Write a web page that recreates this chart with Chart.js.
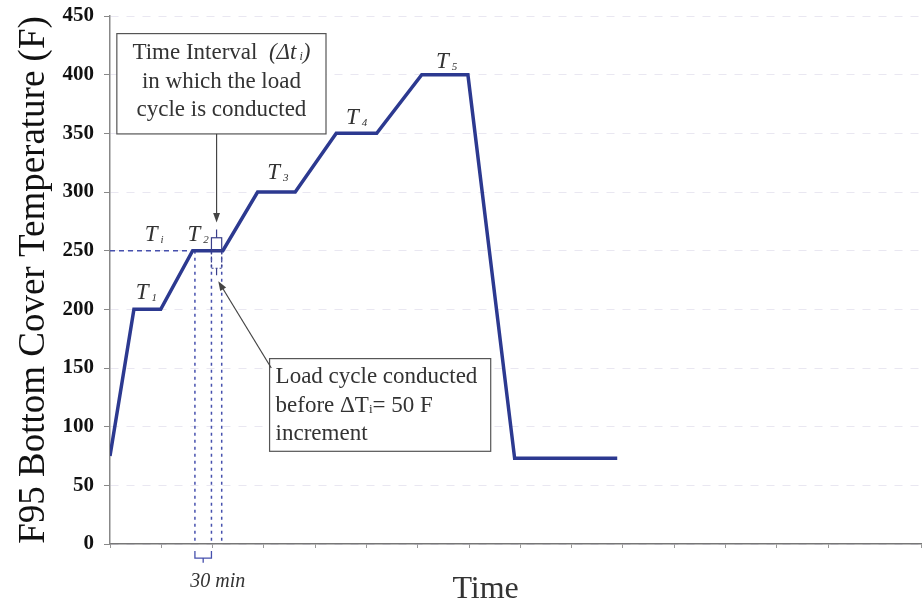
<!DOCTYPE html>
<html>
<head>
<meta charset="utf-8">
<script src="https://cdn.jsdelivr.net/npm/chart.js@4/dist/chart.umd.min.js"></script>
<style>
html, body { margin: 0; padding: 0; background: #fff; }
#wrap { width: 924px; height: 608px; position: relative; }
</style>
</head>
<body>
<div id="wrap"><canvas id="myChart"></canvas></div>
<script>
// time in minutes, temperature in F
var timeMin = [0, 42, 89, 145, 198, 259, 325, 397, 468, 547, 628, 710, 890];
var tempF   = [75, 200, 200, 250, 250, 300, 300, 350, 350, 400, 400, 73, 73];

// stage labels T1, Ti, T2 ... T5
var stageSub  = ['1', 'i', '2', '3', '4', '5'];
var stageTime = [45, 61, 136, 276, 414, 572];
var stageTemp = [214, 263, 263, 316, 363, 411];

// dotted lines around the load cycle, minutes
var intervalTimes = [149, 178, 196];
var loadTemp = 250;
var plateauStart = 145;

var serif = "'Liberation Serif', 'Times New Roman', serif";
var lineBlue = '#2c3990';
var dotBlue = '#4650ad';

var points = timeMin.map(function(t, i) { return { x: t, y: tempF[i] }; });

function arrow(ctx, x1, y1, x2, y2) {
    var a = Math.atan2(y2 - y1, x2 - x1);
    ctx.beginPath();
    ctx.moveTo(x1, y1);
    ctx.lineTo(x2 - 6 * Math.cos(a), y2 - 6 * Math.sin(a));
    ctx.stroke();
    ctx.beginPath();
    ctx.moveTo(x2, y2);
    ctx.lineTo(x2 - 10 * Math.cos(a - 0.35), y2 - 10 * Math.sin(a - 0.35));
    ctx.lineTo(x2 - 10 * Math.cos(a + 0.35), y2 - 10 * Math.sin(a + 0.35));
    ctx.closePath();
    ctx.fill();
}

// draws a line made of several font pieces
function richText(ctx, parts, x, y, align) {
    var total = 0;
    parts.forEach(function(p) { ctx.font = p.f; p.w = ctx.measureText(p.t).width; total += p.w; });
    var cx = align === 'center' ? x - total / 2 : x;
    ctx.textAlign = 'left';
    ctx.textBaseline = 'middle';
    parts.forEach(function(p) {
        ctx.font = p.f;
        ctx.fillText(p.t, cx, y + (p.dy || 0));
        cx += p.w;
    });
}

var underLines = {
    id: 'underLines',
    beforeDatasetsDraw: function(chart) {
        var ctx = chart.ctx;
        var X = function(v) { return chart.scales.x.getPixelForValue(v); };
        var Y = function(v) { return chart.scales.y.getPixelForValue(v); };
        ctx.save();
        ctx.strokeStyle = dotBlue;
        ctx.lineWidth = 1.5;
        ctx.setLineDash([3, 4]);
        intervalTimes.forEach(function(t) {
            ctx.beginPath();
            ctx.moveTo(X(t), Y(loadTemp));
            ctx.lineTo(X(t), Y(0));
            ctx.stroke();
        });
        ctx.setLineDash([5, 4]);
        ctx.beginPath();
        ctx.moveTo(X(0), Y(loadTemp));
        ctx.lineTo(X(plateauStart), Y(loadTemp));
        ctx.stroke();
        ctx.restore();
    }
};

var notes = {
    id: 'notes',
    afterDraw: function(chart) {
        var ctx = chart.ctx;
        var X = function(v) { return chart.scales.x.getPixelForValue(v); };
        var Y = function(v) { return chart.scales.y.getPixelForValue(v); };
        ctx.save();

        // T labels
        ctx.fillStyle = '#333';
        stageSub.forEach(function(s, i) {
            var x = X(stageTime[i]), y = Y(stageTemp[i]);
            ctx.textAlign = 'left';
            ctx.textBaseline = 'middle';
            ctx.font = 'italic 23px ' + serif;
            ctx.fillText('T', x, y);
            var w = ctx.measureText('T').width;
            ctx.font = 'italic 11px ' + serif;
            ctx.fillText(s, x + w + 3, y + 5);
        });

        // little boxes on the T2 plateau
        ctx.strokeStyle = '#3a3f8a';
        ctx.lineWidth = 1.2;
        ctx.strokeRect(X(178), Y(261), X(196) - X(178), Y(250) - Y(261));
        ctx.setLineDash([2, 2]);
        ctx.strokeRect(X(178), Y(250), X(196) - X(178), Y(235) - Y(250));
        ctx.setLineDash([]);
        ctx.beginPath();
        ctx.moveTo(X(187), Y(268)); ctx.lineTo(X(187), Y(261));
        ctx.moveTo(X(187), Y(235)); ctx.lineTo(X(187), Y(229));
        ctx.stroke();

        // text boxes
        ctx.strokeStyle = '#555';
        ctx.lineWidth = 1.2;
        var b1 = { l: X(12), r: X(379), t: Y(435), b: Y(349.5) };
        var b2 = { l: X(280), r: X(668), t: Y(158), b: Y(79) };
        ctx.fillStyle = '#fff';
        ctx.fillRect(b1.l, b1.t, b1.r - b1.l, b1.b - b1.t);
        ctx.strokeRect(b1.l, b1.t, b1.r - b1.l, b1.b - b1.t);
        ctx.fillRect(b2.l, b2.t, b2.r - b2.l, b2.b - b2.t);
        ctx.strokeRect(b2.l, b2.t, b2.r - b2.l, b2.b - b2.t);

        ctx.fillStyle = '#333';
        var reg = '23px ' + serif, ita = 'italic 23px ' + serif, sub = 'italic 12px ' + serif;
        var c1 = (b1.l + b1.r) / 2;
        richText(ctx, [{ t: 'Time Interval  ', f: reg }, { t: '(\u0394t', f: ita }, { t: ' i', f: sub, dy: 4 }, { t: ')', f: ita }], c1, b1.t + 19, 'center');
        richText(ctx, [{ t: 'in which the load', f: reg }], c1, b1.t + 48, 'center');
        richText(ctx, [{ t: 'cycle is conducted', f: reg }], c1, b1.t + 76, 'center');

        richText(ctx, [{ t: 'Load cycle conducted', f: reg }], b2.l + 6, b2.t + 18, 'left');
        richText(ctx, [{ t: 'before \u0394T', f: reg }, { t: 'i', f: '13px ' + serif, dy: 4 }, { t: '= 50 F', f: reg }], b2.l + 6, b2.t + 47, 'left');
        richText(ctx, [{ t: 'increment', f: reg }], b2.l + 6, b2.t + 75, 'left');

        // arrows
        ctx.strokeStyle = '#444';
        ctx.fillStyle = '#444';
        ctx.lineWidth = 1.2;
        arrow(ctx, X(187), b1.b, X(187), Y(274));
        arrow(ctx, X(283), Y(150), X(190), Y(224));

        // 30 min brace
        ctx.strokeStyle = dotBlue;
        ctx.lineWidth = 1.3;
        ctx.beginPath();
        ctx.moveTo(X(149), Y(-6)); ctx.lineTo(X(149), Y(-12));
        ctx.lineTo(X(178), Y(-12)); ctx.lineTo(X(178), Y(-6));
        ctx.moveTo(X(163.5), Y(-12)); ctx.lineTo(X(163.5), Y(-16));
        ctx.stroke();
        ctx.fillStyle = '#333';
        ctx.font = 'italic 20px ' + serif;
        ctx.textAlign = 'center';
        ctx.textBaseline = 'middle';
        ctx.fillText('30 min', X(189), Y(-32.5));

        // x axis title
        ctx.font = '32px ' + serif;
        ctx.fillStyle = '#333';
        ctx.fillText('Time', X(659), Y(-38.5));
        ctx.restore();
    }
};

var ctx = document.getElementById('myChart').getContext('2d');
var tempChart = new Chart(ctx, {
    type: 'line',
    data: {
        datasets: [{
            label: 'F95 bottom cover',
            data: points,
            borderColor: lineBlue,
            backgroundColor: lineBlue,
            borderWidth: 3.5,
            pointRadius: 0,
            tension: 0,
            fill: false
        }]
    },
    plugins: [underLines, notes],
    options: {
        responsive: true,
        maintainAspectRatio: false,
        animation: false,
        layout: { padding: { top: 16, right: 0, left: 0, bottom: 0 } },
        plugins: {
            legend: { display: false },
            tooltip: { enabled: false }
        },
        scales: {
            x: {
                type: 'linear',
                min: 0,
                max: 1423,
                afterFit: function(scale) { scale.height = 64; },
                ticks: { stepSize: 90, autoSkip: false, maxRotation: 0, callback: function() { return ''; } },
                grid: { drawOnChartArea: false, drawTicks: true, tickLength: 4, color: '#999' },
                border: { color: '#777', width: 1.5 }
            },
            y: {
                min: 0,
                max: 450,
                afterFit: function(scale) {
                    scale.width = 110;
                    scale.paddingTop = 2;
                    scale.paddingBottom = 2;
                },
                ticks: {
                    stepSize: 50,
                    padding: 10,
                    color: '#111',
                    font: { family: serif, size: 21, weight: 'bold' }
                },
                grid: { color: 'rgba(200,196,220,0.4)', tickLength: 6, tickColor: '#888' },
                border: { color: '#888', width: 1.5, dash: [8, 8] },
                title: {
                    display: true,
                    text: 'F95 Bottom Cover Temperature (F)',
                    color: '#111',
                    font: { family: serif, size: 37 },
                    padding: { top: 12, bottom: 0 }
                }
            }
        }
    }
});
</script>
</body>
</html>
